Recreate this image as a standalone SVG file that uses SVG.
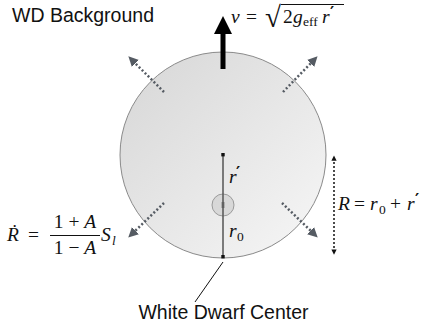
<svg xmlns="http://www.w3.org/2000/svg" width="435" height="328" viewBox="0 0 435 328">
<style>
.lbl{font-family:"Liberation Sans",Arial,sans-serif;font-size:19.5px;fill:#111}
.m{font-family:"Liberation Serif","DejaVu Serif",serif;font-size:19.5px;fill:#111}
.i{font-style:italic}
.sub{font-size:13.5px}
.pr{font-family:"DejaVu Serif",serif;font-size:16px;font-weight:bold;fill:#111}
.dot{stroke:#555b63;stroke-width:2.5;stroke-dasharray:2 2.2;fill:none}
</style>
<defs>
<linearGradient id="g" x1="0" y1="0" x2="1" y2="1">
<stop offset="0" stop-color="#d6d6d6"/>
<stop offset="1" stop-color="#f7f7f7"/>
</linearGradient>
<marker id="ah" viewBox="0 0 10 10" refX="2" refY="5" markerWidth="4" markerHeight="4" orient="auto" markerUnits="strokeWidth">
<path d="M0,0 L10,5 L0,10 z" fill="#555b63"/>
</marker>
<marker id="sh" viewBox="0 0 10 10" refX="5" refY="5" markerWidth="3.5" markerHeight="3.5" orient="auto-start-reverse" markerUnits="strokeWidth">
<path d="M0,0 L10,5 L0,10 z" fill="#111"/>
</marker>
</defs>
<g id="wd">
<circle cx="223" cy="155" r="103" fill="url(#g)" stroke="#8a8a8a" stroke-width="1"/>
</g>
<g id="core">
<circle cx="223" cy="205" r="11" fill="#cccccc" fill-opacity="0.6" stroke="#9a9a9a" stroke-width="1"/>
<rect x="221.5" y="202" width="3" height="6" fill="#888"/>
</g>
<g id="connectors">
<line x1="223" y1="155" x2="223" y2="257" stroke="#555" stroke-width="1.5"/>
<rect x="221.3" y="153" width="3.4" height="3.4" fill="#111"/>
<rect x="221.3" y="255" width="3.4" height="3.4" fill="#111"/>
<rect x="220.5" y="30" width="5" height="39" fill="#000"/>
<path d="M214,34 L232,34 L223,16 z" fill="#000"/>
<line class="dot" x1="164" y1="92" x2="134" y2="62" marker-end="url(#ah)"/>
<line class="dot" x1="283" y1="92" x2="312" y2="62" marker-end="url(#ah)"/>
<line class="dot" x1="164" y1="203" x2="134" y2="232" marker-end="url(#ah)"/>
<line class="dot" x1="282" y1="203" x2="312" y2="232" marker-end="url(#ah)"/>
<line x1="334" y1="158" x2="334" y2="252" stroke="#111" stroke-width="1.5" stroke-dasharray="2 2" marker-start="url(#sh)" marker-end="url(#sh)"/>
<line x1="223" y1="262" x2="195" y2="302" stroke="#111" stroke-width="1"/>
</g>
<g id="labels">
<text class="lbl" x="12" y="22">WD Background</text>
<text class="lbl" x="223.5" y="319" text-anchor="middle">White Dwarf Center</text>
<text class="m i" x="231" y="23">v</text>
<text class="m" x="246" y="23">=</text>
<text class="m" x="265" y="27" style="font-size:29px">√</text>
<line x1="281" y1="4.5" x2="344" y2="4.5" stroke="#111" stroke-width="1.2"/>
<text class="m" x="283" y="23">2</text>
<text class="m i" x="293" y="23">g</text>
<text class="m sub" x="303" y="26">eff</text>
<text class="m i" x="322" y="23">r</text>
<text class="pr" x="330" y="18">′</text>
<text class="m i" x="229" y="183">r</text>
<text class="pr" x="236" y="178">′</text>
<text class="m i" x="229" y="237">r</text>
<text class="m sub" x="237" y="241">0</text>
<text class="m i" x="338" y="210">R</text>
<text class="m" x="354" y="210">=</text>
<text class="m i" x="370" y="210">r</text>
<text class="m sub" x="379" y="214">0</text>
<text class="m" x="390" y="210">+</text>
<text class="m i" x="407" y="210">r</text>
<text class="pr" x="415" y="205">′</text>
<text class="m i" x="7" y="241">Ṙ</text>
<text class="m" x="28" y="241">=</text>
<text class="m" x="75" y="228" text-anchor="middle">1 + <tspan class="i">A</tspan></text>
<line x1="50" y1="235.5" x2="100" y2="235.5" stroke="#111" stroke-width="1"/>
<text class="m" x="75" y="254" text-anchor="middle">1 − <tspan class="i">A</tspan></text>
<text class="m i" x="101" y="241">S</text>
<text class="m i sub" x="112" y="245">l</text>
</g>
</svg>
